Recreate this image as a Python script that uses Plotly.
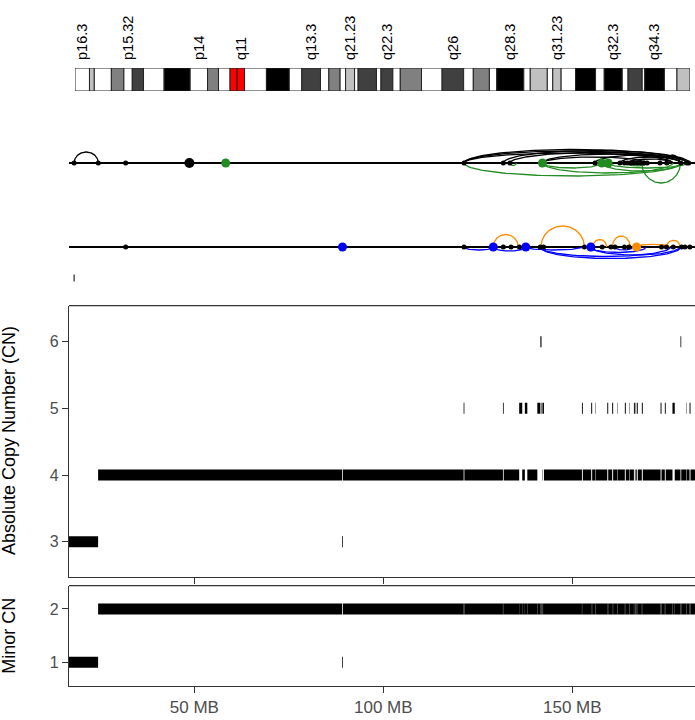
import numpy as np
import plotly.graph_objects as go

# ---------------- ideogram data (chr4, hg19 bands, Mb) ----------------
band_names = ["p16.3","p16.2","p16.1","p15.33","p15.32","p15.31","p15.2","p15.1","p14","p13","p12","p11",
              "q11","q12","q13.1","q13.2","q13.3","q21.1","q21.21","q21.22","q21.23","q21.3","q22.1","q22.2",
              "q22.3","q23","q24","q25","q26","q27","q28.1","q28.2","q28.3","q31.1","q31.21","q31.22","q31.23",
              "q31.3","q32.1","q32.2","q32.3","q33","q34.1","q34.2","q34.3","q35.1","q35.2"]
band_start = [0, 4.5, 6.0, 11.3, 15.2, 17.8, 21.3, 27.7, 35.8, 41.2, 44.6, 48.2,
              50.4, 52.7, 59.5, 66.6, 70.5, 76.3, 78.9, 82.4, 84.1, 86.9, 88.0, 93.7,
              95.1, 98.8, 101.1, 107.7, 114.1, 120.8, 123.8, 128.8, 131.1, 139.5, 141.5, 146.8, 148.5,
              151.1, 155.6, 161.8, 164.5, 170.1, 171.9, 176.3, 177.1, 183.2, 187.1]
chrom_len = 191.154
band_stain = ["gneg","gpos25","gneg","gpos50","gneg","gpos75","gneg","gpos100","gneg","gpos50","gneg","acen",
              "acen","gneg","gpos100","gneg","gpos75","gneg","gpos50","gneg","gpos25","gneg","gpos75","gneg",
              "gpos75","gneg","gpos50","gneg","gpos75","gneg","gpos50","gneg","gpos100","gneg","gpos25","gneg","gpos25",
              "gneg","gpos100","gneg","gpos100","gneg","gpos75","gneg","gpos100","gneg","gpos25"]
stain_color = {"gneg": "#FFFFFF", "gpos25": "#C0C0C0", "gpos50": "#808080",
               "gpos75": "#404040", "gpos100": "#000000", "acen": "#FF0000"}

# ---------------- copy number data (Mb) ----------------
cn_chrom_end = 191.0
alt_start = [16.85, 89.08, 121.25, 131.65, 135.95, 137.45, 140.75, 141.55, 141.85, 142.10, 152.55, 155.00,
             156.15, 159.25, 160.55, 161.97, 163.90, 165.04, 166.30, 166.70, 167.05, 168.40, 173.35, 174.48,
             176.50, 178.62, 180.22, 181.02]
alt_end = [24.55, 89.28, 121.45, 131.85, 136.75, 138.10, 141.55, 141.85, 142.00, 142.50, 152.78, 155.25,
           156.25, 159.50, 160.80, 162.07, 164.15, 165.14, 166.55, 166.80, 167.32, 168.65, 173.60, 174.72,
           177.10, 178.82, 180.32, 181.27]
alt_cn = [3, 3, 5, 5, 5, 5, 5, 6, 5, 5, 5, 5, 5, 5, 5, 5, 5, 5, 5, 5, 5, 5, 5, 5, 5, 6, 5, 5]
alt_minor = [1, 1, 2, 2, 2, 2, 2, 2, 2, 2, 2, 2, 2, 2, 2, 2, 2, 2, 2, 2, 2, 2, 2, 2, 2, 2, 2, 2]
neutral_cn = 4
neutral_minor = 2

# ---------------- structural variant tracks (Mb; arc heights in px) ----------------
t1_arc_start = [18.2, 121.35, 121.35, 121.35, 131.75, 133.5, 142.1, 142.1, 156.0, 162.6, 164.6, 174.6]
t1_arc_end = [24.6, 180.3, 178.7, 176.6, 181.0, 180.3, 178.7, 169.5, 180.3, 178.7, 176.6, 178.4]
t1_arc_h = [11, 13.5, 12, 10, 12.5, 10.5, 9, 6, 8, 6, 4, 8]
t1_arc2_start = [121.35, 133.5, 142.1, 142.1, 157.8, 159.5, 168.4, 164.6]
t1_arc2_end = [178.7, 135.2, 157.8, 176.6, 178.7, 180.3, 178.6, 169.5]
t1_arc2_h = [-13, -2.5, -5, -10, -8, -5, -20, -3]
t1_black_pts = [18.2, 24.6, 31.85, 121.35, 131.75, 133.5, 156.0, 162.6, 163.8, 164.6, 165.4, 166.3,
                167.2, 168.1, 169.0, 169.8, 173.2, 175.0, 178.7, 180.3, 180.8]
t1_big_black_pts = [48.7]
t1_green_pts = [58.3, 142.1, 157.8, 159.5]

t2_arc_start = [129.1, 141.7, 155.4, 160.6, 167.0, 174.97]
t2_arc_end = [135.7, 153.2, 159.1, 165.3, 175.8, 178.5]
t2_arc_h = [12.5, 21, 7.5, 11, 2.7, 6.7]
t2_arc2_start = [121.35, 129.1, 141.5, 141.5, 154.9, 154.9, 161.3, 137.7]
t2_arc2_end = [129.1, 137.7, 178.7, 176.0, 178.4, 169.5, 166.0, 152.6]
t2_arc2_h = [-3, -4, -11.5, -9.5, -8, -5.5, -3, -3]
t2_black_pts = [31.85, 121.35, 131.75, 133.8, 136.0, 141.5, 142.4, 153.2, 157.9, 160.2, 161.3, 163.8,
                165.0, 173.6, 174.9, 176.7, 178.9, 179.8, 181.1]
t2_blue_pts = [89.2, 129.1, 137.7, 154.9]
t2_orange_pts = [167.0]
t3_marks = [18.2]

x_ticks = [50, 100, 150]
x_ticktext = ["50 MB", "100 MB", "150 MB"]

# ---------------- layout constants ----------------
W, H = 695, 720
XR = [16.85, 182.46]
X0 = 69 / W
FONT = "Liberation Sans, Arial, Helvetica, sans-serif"
AX = "#333333"
TICKC = "#4D4D4D"


def py(px):
    return 1 - px / H


fig = go.Figure()

# ---------- ideogram ----------
band_end = band_start[1:] + [chrom_len]
fig.add_trace(go.Bar(
    y=[0] * len(band_start), base=band_start,
    x=[e - s for s, e in zip(band_start, band_end)],
    orientation="h", width=1.0,
    marker=dict(color=[stain_color[s] for s in band_stain], line=dict(color="#222222", width=1)),
    xaxis="x3", yaxis="y3", hoverinfo="skip"))
centers = [(s + e) / 2 for s, e in zip(band_start, band_end)]

# ---------- SV tracks ----------
BASE1, BASE2, BASE3 = -163, -247, -278


def arcs(starts, ends, hs, base):
    xs, ys = [], []
    t = np.linspace(0, np.pi, 80)
    for s, e, h in zip(starts, ends, hs):
        c, r = (s + e) / 2, (e - s) / 2
        xs += list(c - r * np.cos(t)) + [None]
        ys += list(base + h * np.sin(t)) + [None]
    return xs, ys


for base in (BASE1, BASE2):
    fig.add_trace(go.Scatter(x=XR, y=[base, base], mode="lines", line=dict(color="black", width=2),
                             xaxis="x4", yaxis="y4", hoverinfo="skip"))

for st, en, hh, base, col in [
        (t1_arc_start, t1_arc_end, t1_arc_h, BASE1, "black"),
        (t1_arc2_start, t1_arc2_end, t1_arc2_h, BASE1, "#228B22"),
        (t2_arc_start, t2_arc_end, t2_arc_h, BASE2, "#FF8C00"),
        (t2_arc2_start, t2_arc2_end, t2_arc2_h, BASE2, "#0000FF")]:
    xs, ys = arcs(st, en, hh, base)
    fig.add_trace(go.Scatter(x=xs, y=ys, mode="lines", line=dict(color=col, width=1.3),
                             xaxis="x4", yaxis="y4", hoverinfo="skip"))

for xs, base, col, size in [
        (t1_black_pts, BASE1, "black", 5),
        (t1_big_black_pts, BASE1, "black", 10),
        (t1_green_pts, BASE1, "#228B22", 9),
        (t2_black_pts, BASE2, "black", 5),
        (t2_blue_pts, BASE2, "#0000FF", 9),
        (t2_orange_pts, BASE2, "#FF8C00", 9)]:
    fig.add_trace(go.Scatter(x=xs, y=[base] * len(xs), mode="markers",
                             marker=dict(color=col, size=size, line=dict(width=0)),
                             xaxis="x4", yaxis="y4", hoverinfo="skip"))

fig.add_trace(go.Scatter(x=t3_marks, y=[BASE3] * len(t3_marks), mode="markers",
                         marker=dict(symbol="line-ns", size=5, line=dict(color="black", width=1)),
                         xaxis="x4", yaxis="y4", hoverinfo="skip"))

# ---------- copy number segments ----------
seg_s, seg_e, seg_cn, seg_min = [], [], [], []
pos = alt_end[0]
order = sorted(range(1, len(alt_start)), key=lambda i: alt_start[i])
for i in order:
    if alt_start[i] > pos:
        seg_s.append(pos); seg_e.append(alt_start[i]); seg_cn.append(neutral_cn); seg_min.append(neutral_minor)
    pos = max(pos, alt_end[i])
seg_s.append(pos); seg_e.append(cn_chrom_end); seg_cn.append(neutral_cn); seg_min.append(neutral_minor)
seg_s += alt_start; seg_e += alt_end; seg_cn += alt_cn; seg_min += alt_minor


def seg_xy(starts, ends, vals):
    xs, ys = [], []
    for s, e, v in zip(starts, ends, vals):
        xs += [s, e, None]
        ys += [v, v, None]
    return xs, ys


sx, sy = seg_xy(seg_s, seg_e, seg_cn)
fig.add_trace(go.Scatter(x=sx, y=sy, mode="lines", line=dict(color="black", width=11, simplify=False),
                         xaxis="x", yaxis="y", hoverinfo="skip"))
mx, my = seg_xy(seg_s, seg_e, seg_min)
fig.add_trace(go.Scatter(x=mx, y=my, mode="lines", line=dict(color="black", width=11, simplify=False),
                         xaxis="x2", yaxis="y2", hoverinfo="skip"))

common_x = dict(range=XR, domain=[X0, 1], showgrid=False, zeroline=False,
                tickvals=x_ticks, ticks="outside", ticklen=6, tickwidth=1.3, tickcolor=AX,
                showline=True, linecolor=AX, linewidth=1.3)
common_y = dict(showgrid=False, zeroline=False, ticks="outside", ticklen=6, tickwidth=1.3, tickcolor=AX,
                showline=True, linecolor=AX, linewidth=1.3, tickfont=dict(size=16, color=TICKC, family=FONT))

fig.update_layout(
    width=W, height=H, margin=dict(l=0, r=0, t=0, b=0),
    paper_bgcolor="white", plot_bgcolor="rgba(0,0,0,0)",
    showlegend=False, barmode="overlay", bargap=0.02,
    font=dict(family=FONT),
    xaxis=dict(common_x, anchor="y", showticklabels=False),
    yaxis=dict(common_y, anchor="x", domain=[py(576.7), py(305.7)], range=[2.475, 6.54], tickvals=[3, 4, 5, 6]),
    xaxis2=dict(common_x, anchor="y2", ticktext=x_ticktext,
                tickfont=dict(size=17, color=TICKC, family=FONT)),
    yaxis2=dict(common_y, anchor="x2", domain=[py(685.7), py(585.7)], range=[0.561, 2.437], tickvals=[1, 2]),
    xaxis3=dict(anchor="y3", domain=[75 / W, 690 / W], range=[0, chrom_len], side="top",
                tickvals=centers[::4], ticktext=band_names[::4], tickangle=-90, ticks="",
                ticklabelstandoff=7,
                showline=False, showgrid=False, zeroline=False,
                tickfont=dict(size=14.5, color="black", family=FONT)),
    yaxis3=dict(anchor="x3", domain=[py(91), py(68)], range=[-0.5, 0.5], visible=False),
    xaxis4=dict(anchor="y4", domain=[X0, 1], range=XR, visible=False),
    yaxis4=dict(anchor="x4", domain=[py(300), py(120)], range=[-300, -120], visible=False),
    shapes=[
        dict(type="line", xref="x domain", yref="y domain", x0=0, x1=1, y0=1, y1=1,
             line=dict(color=AX, width=1.3)),
        dict(type="line", xref="x2 domain", yref="y2 domain", x0=0, x1=1, y0=1, y1=1,
             line=dict(color=AX, width=1.3)),
    ],
    annotations=[
        dict(text="Absolute Copy Number (CN)", x=9 / W, y=py(441), xref="paper", yref="paper",
             textangle=-90, showarrow=False, xanchor="center", yanchor="middle",
             font=dict(size=18, color="black", family=FONT)),
        dict(text="Minor CN", x=9 / W, y=py(635.7), xref="paper", yref="paper",
             textangle=-90, showarrow=False, xanchor="center", yanchor="middle",
             font=dict(size=18, color="black", family=FONT)),
    ],
)

fig.write_html("out.html", config={"displayModeBar": False},
               post_script="document.body.style.margin='0px';document.body.style.overflow='hidden';")
